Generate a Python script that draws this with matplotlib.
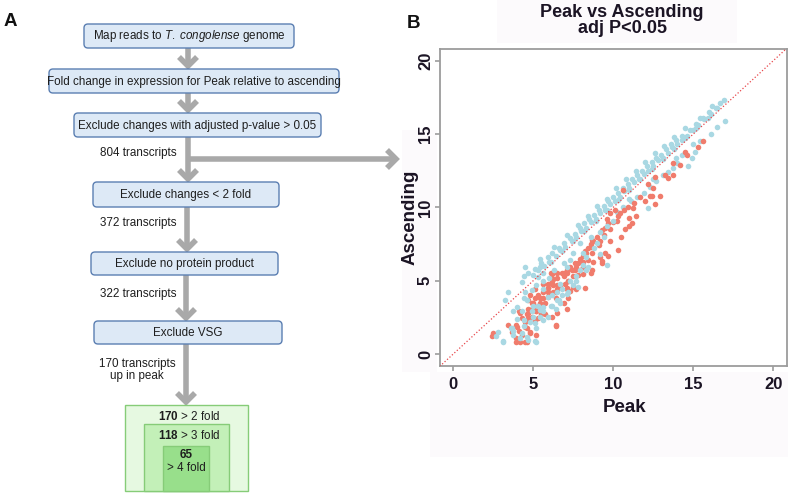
import matplotlib
matplotlib.use('Agg')
import matplotlib.pyplot as plt
from matplotlib.patches import FancyBboxPatch, Rectangle

plt.rcParams['font.family'] = 'Liberation Sans'
plt.rcParams['mathtext.fontset'] = 'custom'
plt.rcParams['mathtext.rm'] = 'Liberation Sans'
plt.rcParams['mathtext.it'] = 'Liberation Sans:italic'
plt.rcParams['mathtext.bf'] = 'Liberation Sans:bold'

# flowchart text
step_labels = [r'Map reads to $\mathit{T.\ congolense}$ genome',
               'Fold change in expression for Peak relative to ascending',
               'Exclude changes with adjusted p-value > 0.05',
               'Exclude changes < 2 fold',
               'Exclude no protein product',
               'Exclude VSG']
count_labels = ['804 transcripts', '372 transcripts', '322 transcripts',
                '170 transcripts\nup in peak']
fold_counts = [170, 118, 65]
fold_labels = ['> 2 fold', '> 3 fold', '> 4 fold']

# scatter: blue points (not up in peak)
band_lo_peak = [5.0, 5.3, 5.7, 6.0, 6.4, 6.7, 7.0, 7.4, 7.7, 8.0, 8.3, 8.6, 8.9, 9.2, 9.5, 9.8,
                10.1, 10.4, 10.7, 11.0, 11.3, 11.6, 11.9, 12.2, 12.5, 12.8, 13.1, 13.4, 13.7,
                14.0, 14.3, 14.6, 15.0, 15.3, 15.7, 16.1, 16.5]
band_lo_asc = [5.4, 5.7, 6.0, 6.3, 6.7, 7.1, 7.3, 7.7, 8.0, 8.4, 8.6, 9.0, 9.2, 9.6, 9.8, 10.2,
               10.4, 10.7, 11.1, 11.3, 11.7, 11.9, 12.3, 12.5, 12.8, 13.2, 13.4, 13.7, 14.1,
               14.3, 14.6, 14.9, 15.3, 15.6, 16.0, 16.4, 16.8]
band_mid_peak = [4.4, 4.7, 5.1, 5.5, 5.9, 6.2, 6.6, 6.9, 7.3, 7.6, 7.9, 8.2, 8.5, 8.8, 9.1,
                 9.4, 9.7, 10.0, 10.3, 10.6, 10.9, 11.2, 11.5, 11.8, 12.1, 12.4, 12.7, 13.0,
                 13.3, 13.6, 13.9, 14.3, 14.8, 15.2, 15.6, 16.0, 16.4, 16.9, 16.7]
band_mid_asc = [5.3, 5.5, 5.8, 6.2, 6.6, 6.9, 7.2, 7.6, 7.9, 8.2, 8.6, 8.9, 9.2, 9.5, 9.8,
                10.1, 10.4, 10.7, 11.0, 11.3, 11.6, 11.9, 12.2, 12.5, 12.8, 13.1, 13.4, 13.6,
                14.0, 14.3, 14.6, 14.9, 15.3, 15.7, 16.1, 16.5, 16.8, 17.3, 17.1]
band_hi_peak = [4.5, 5.4, 6.3, 7.1, 7.8, 8.4, 9.0, 9.6, 10.2, 10.8, 11.4, 12.0, 12.6, 13.2,
                13.8, 14.5, 15.4, 16.2]
band_hi_asc = [5.9, 6.5, 7.3, 8.1, 8.8, 9.4, 10.1, 10.6, 11.3, 11.9, 12.5, 13.1, 13.7, 14.2,
               14.8, 15.4, 16.1, 16.9]
band_edge_peak = [6.1, 6.8, 7.5, 8.2, 8.9, 9.6, 10.3, 11.0, 11.7, 12.4, 13.1, 13.8, 14.5,
                  15.2, 15.9]
band_edge_asc = [6.3, 7.0, 7.7, 8.4, 9.1, 9.8, 10.5, 11.2, 11.9, 12.6, 13.3, 14.0, 14.7,
                 15.4, 16.1]
blue_low_peak = [3.4, 3.25, 4.3, 2.8, 2.7, 3.1, 3.75, 3.75, 3.7, 4.0,
                 4.3, 4.0, 3.75, 4.6, 5.1, 5.2, 5.1, 4.4, 4.5, 5.3,
                 5.6, 6.2, 5.9, 6.2, 6.4, 5.6, 6.5, 5.2, 5.3, 5.6,
                 4.2, 3.6, 5.0, 5.4, 5.6, 4.9, 5.0, 5.9, 4.8, 4.4]
blue_low_asc = [4.2, 3.7, 4.9, 1.5, 1.2, 0.9, 1.3, 1.6, 1.8, 2.4,
                2.9, 3.2, 2.9, 1.15, 0.9, 1.8, 2.1, 3.8, 4.2, 3.3,
                2.9, 3.3, 2.5, 4.0, 3.1, 4.4, 4.2, 4.7, 5.25, 5.5,
                1.1, 1.77, 2.5, 3.0, 2.3, 2.9, 3.3, 3.9, 2.2, 1.9]
blue_mid_peak = [6.6, 6.8, 7.1, 6.7, 7.3, 7.7, 7.9, 7.1, 8.1, 8.3,
                 9.6, 9.2, 7.3, 7.9, 8.1, 9.0, 9.2, 9.6, 10.0, 8.6,
                 6.3, 5.6, 5.4, 6.7, 8.4, 9.4, 6.0, 7.5, 8.8, 6.9]
blue_mid_asc = [3.7, 4.4, 4.1, 3.5, 5.0, 5.3, 5.7, 5.9, 6.1, 6.6,
                6.1, 6.8, 6.4, 7.6, 6.9, 7.6, 8.3, 8.7, 9.1, 8.0,
                5.7, 5.0, 5.9, 4.8, 5.9, 8.0, 5.2, 6.9, 7.2, 6.2]
blue_extra_peak = [3.1, 4.3, 4.7, 5.2, 4.4, 5.4, 5.6, 6.1, 6.5, 6.8,
                   7.2, 7.5, 7.7, 8.3, 7.8, 4.9, 4.6]
blue_extra_asc = [0.8, 1.4, 0.95, 0.8, 2.3, 2.5, 3.2, 3.3, 3.7, 4.0,
                  4.2, 4.7, 5.0, 5.7, 4.6, 4.35, 3.7]
blue_below_peak = [10.25, 10.6, 11.1, 11.5, 11.9, 12.3, 12.7, 13.4, 13.75, 14.0,
                   14.3, 14.7, 12.2, 14.9, 15.1, 15.0, 15.4, 16.1, 16.5, 17.0,
                   12.5, 13.1, 11.0, 13.9]
blue_below_asc = [9.7, 10.0, 10.4, 10.7, 11.0, 11.4, 11.8, 12.4, 12.7, 13.0,
                  13.6, 12.8, 9.95, 13.4, 13.8, 14.3, 14.5, 15.0, 15.5, 15.9,
                  11.9, 12.2, 10.6, 13.4]

# scatter: red points (up in peak)
red_low_peak = [2.4, 2.5, 3.4, 3.9, 3.9, 4.2, 4.5, 4.6, 4.1, 4.3,
                4.6, 4.8, 5.2, 4.3, 4.6, 4.9, 4.7, 4.9, 5.1, 4.8,
                4.7, 5.4, 5.6, 5.5, 5.3, 5.2, 5.9, 5.9, 6.25, 5.9,
                6.2, 6.5, 5.75, 6.4, 6.4, 4.1, 4.7, 5.75, 3.9, 6.5,
                6.9, 6.6, 6.25, 5.6, 5.1, 6.2, 5.0, 5.3, 4.5, 6.0]
red_low_asc = [1.2, 1.4, 2.0, 2.0, 0.8, 0.8, 0.8, 0.8, 1.6, 1.3,
               1.8, 1.5, 1.3, 2.45, 2.7, 2.5, 3.1, 3.5, 3.8, 4.0,
               3.7, 3.5, 3.8, 2.7, 2.45, 2.9, 4.2, 4.5, 4.7, 4.8,
               5.0, 4.7, 3.5, 3.8, 1.9, 2.9, 2.8, 2.7, 1.1, 2.8,
               3.5, 4.6, 5.1, 4.8, 4.4, 2.5, 3.1, 4.0, 2.2, 4.0]
red_mid_peak = [7.1, 7.2, 7.3, 7.5, 7.1, 7.0, 6.5, 6.25, 6.1, 6.5,
                6.8, 7.1, 7.5, 7.7, 8.1, 8.1, 8.6, 8.75, 9.2, 9.3,
                9.7, 8.25, 7.7, 6.9, 7.1, 7.3, 7.6, 7.8, 8.1, 8.25,
                8.4, 8.6, 8.7, 8.75, 9.0, 9.1, 9.2, 9.3, 9.4, 9.5,
                9.7, 9.8, 10.0, 10.25, 9.5, 9.3, 8.7, 8.1, 7.2, 6.2,
                9.8, 10.1, 9.6, 10.3, 9.8, 10.5, 10.75, 11.2]
red_mid_asc = [3.1, 3.8, 4.3, 4.6, 4.5, 4.8, 4.4, 4.2, 5.5, 5.5,
               5.5, 5.5, 5.3, 5.9, 5.9, 6.3, 5.5, 6.3, 6.6, 6.2,
               6.7, 4.5, 4.4, 5.3, 5.7, 5.9, 5.7, 6.2, 6.7, 7.0,
               7.2, 7.5, 6.9, 7.7, 8.0, 7.4, 7.7, 8.45, 8.1, 8.6,
               8.9, 8.5, 9.0, 9.1, 6.9, 6.35, 5.7, 5.45, 5.0, 5.45,
               9.6, 9.8, 9.2, 7.1, 7.7, 8.0, 8.5, 8.9]
red_extra_peak = [3.7, 4.0, 4.2, 4.7, 4.5, 4.8, 5.1, 4.9, 5.0, 5.2,
                  5.3, 5.4, 5.6, 5.9, 5.9, 6.2, 6.4, 6.5, 6.7, 6.9,
                  7.1, 7.2, 7.4, 7.6, 7.8, 7.9, 8.1, 8.3, 8.4, 8.6,
                  8.7, 6.4]
red_extra_asc = [1.5, 1.85, 2.8, 2.45, 1.85, 1.4, 2.3, 3.1, 3.5, 2.9,
                 3.3, 3.8, 4.2, 4.5, 3.9, 4.8, 4.2, 5.2, 4.7, 5.5,
                 4.4, 5.0, 5.7, 6.2, 5.4, 6.5, 5.9, 6.9, 6.4, 7.3,
                 7.8, 2.0]
red_high_peak = [15.6, 15.3, 14.5, 14.6, 14.2, 13.75, 13.25, 13.75, 12.6, 12.2,
                 12.5, 12.9, 12.3, 11.7, 12.6, 10.6, 11.25, 10.4, 11.0, 10.9,
                 11.3, 10.7, 11.4, 10.3, 11.0, 12.0, 12.4, 13.4]
red_high_asc = [14.5, 14.1, 13.8, 13.6, 12.9, 13.0, 12.2, 12.2, 12.1, 11.6,
                11.3, 10.8, 10.8, 10.7, 10.2, 11.2, 9.95, 9.6, 9.3, 10.0,
                10.3, 9.8, 9.4, 9.4, 8.7, 10.4, 10.8, 12.0]

# blue band along the diagonal (drawn under the reds)
band_x = band_lo_peak + band_mid_peak + band_hi_peak + band_edge_peak + blue_below_peak
band_y = band_lo_asc + band_mid_asc + band_hi_asc + band_edge_asc + blue_below_asc
# blue points inside the red cluster (drawn over the reds)
mixed_x = blue_low_peak + blue_mid_peak + blue_extra_peak
mixed_y = blue_low_asc + blue_mid_asc + blue_extra_asc
red_x = red_low_peak + red_mid_peak + red_extra_peak + red_high_peak
red_y = red_low_asc + red_mid_asc + red_extra_asc + red_high_asc

fig = plt.figure(figsize=(8, 4.94), dpi=100)

# ---- panel A: flowchart drawn in pixel coordinates ----
ax0 = fig.add_axes([0, 0, 1, 1])
ax0.set_xlim(0, 800)
ax0.set_ylim(494, 0)
ax0.axis('off')

txt_col = '#1e1e1e'
arrow_col = '#a9a9a9'

# faint backing of panel B pieces
for (x0, y0, x1, y1) in [(497, 0, 737, 43), (430, 372, 788, 457), (402, 130, 437, 372)]:
    ax0.add_patch(Rectangle((x0, y0), x1 - x0, y1 - y0, fc='#fcfafc', ec='none', zorder=0))

box_geom = [(84, 24, 294, 48), (49, 69, 339, 93), (74, 113, 321, 137),
            (93, 182, 279, 207), (91, 252, 278, 275), (94, 321, 282, 344)]
for lab, (x0, y0, x1, y1) in zip(step_labels, box_geom):
    ax0.add_patch(FancyBboxPatch((x0, y0), x1 - x0, y1 - y0,
                                 boxstyle='round,pad=0,rounding_size=4',
                                 fc='#dde9f6', ec='#5b7fb2', lw=1.0, zorder=3))
    ax0.text((x0 + x1) / 2, (y0 + y1) / 2 + 0.5, lab, ha='center', va='center',
             fontsize=8.4, color=txt_col, zorder=4)


def down_arrow(x, y0, y1):
    ax0.plot([x, x], [y0, y1 - 4], color=arrow_col, lw=4.0, solid_capstyle='butt', zorder=2)
    ax0.plot([x - 9, x, x + 9], [y1 - 12, y1 - 3, y1 - 12], color=arrow_col, lw=4.0,
             solid_joinstyle='miter', solid_capstyle='butt', zorder=2)


for x, y0, y1 in [(188, 48, 69), (188, 93, 113), (188, 137, 182),
                  (187, 207, 252), (186, 275, 321), (186, 344, 405)]:
    down_arrow(x, y0, y1)

# branch to panel B
ax0.plot([188, 394], [159, 159], color=arrow_col, lw=4.0, solid_capstyle='butt', zorder=2)
ax0.plot([387, 396, 387], [150, 159, 168], color=arrow_col, lw=4.0,
         solid_joinstyle='miter', solid_capstyle='butt', zorder=2)

ax0.text(100, 153, count_labels[0], ha='left', va='center', fontsize=8.4, color=txt_col)
ax0.text(100, 223, count_labels[1], ha='left', va='center', fontsize=8.4, color=txt_col)
ax0.text(100, 294, count_labels[2], ha='left', va='center', fontsize=8.4, color=txt_col)
ax0.text(137, 370, count_labels[3], ha='center', va='center', fontsize=8.4, color=txt_col,
         linespacing=1.1)

# nested fold-change boxes
green_geom = [(125, 405, 248, 491), (144, 424, 229, 491), (163, 446, 209, 491)]
green_fill = ['#e6f9e1', '#c3f0b8', '#98df8b']
for (x0, y0, x1, y1), fc in zip(green_geom, green_fill):
    ax0.add_patch(Rectangle((x0, y0), x1 - x0, y1 - y0, fc=fc, ec='#86cc78', lw=1.0, zorder=3))
ax0.text(189, 416, r'$\mathbf{%d}$ %s' % (fold_counts[0], fold_labels[0]), ha='center',
         va='center', fontsize=8.4, color=txt_col, zorder=4)
ax0.text(189, 435, r'$\mathbf{%d}$ %s' % (fold_counts[1], fold_labels[1]), ha='center',
         va='center', fontsize=8.4, color=txt_col, zorder=4)
ax0.text(186, 455, str(fold_counts[2]), ha='center', va='center', fontsize=8.4,
         fontweight='bold', color=txt_col, zorder=4)
ax0.text(186, 468, fold_labels[2], ha='center', va='center', fontsize=8.4, color=txt_col, zorder=4)

ax0.text(10, 22, 'A', ha='center', va='center', fontsize=13.5, fontweight='bold', color='#111111')
ax0.text(414, 23, 'B', ha='center', va='center', fontsize=13.5, fontweight='bold', color='#111111')

# ---- panel B: scatter ----
dark = '#1b1424'
ax0.text(622, 17, 'Peak vs Ascending', ha='center', va='baseline', fontsize=13,
         fontweight='bold', color=dark)
ax0.text(622, 33, 'adj P<0.05', ha='center', va='baseline', fontsize=13,
         fontweight='bold', color=dark)
ax0.text(625, 412, 'Peak', ha='center', va='baseline', fontsize=13.5,
         fontweight='bold', color=dark)
ax0.text(415, 217, 'Ascending', ha='center', va='baseline', rotation=90,
         rotation_mode='anchor', fontsize=13.5, fontweight='bold', color=dark)

ax = fig.add_axes([440 / 800, 1 - 366 / 494, 347 / 800, 317 / 494])
ax.scatter(band_x, band_y, s=16, c='#a9d8e3', linewidths=0, zorder=2)
ax.scatter(red_x, red_y, s=16, c='#f07c6c', linewidths=0, zorder=3)
ax.scatter(mixed_x, mixed_y, s=16, c='#a9d8e3', linewidths=0, zorder=4)
ax.plot([-1, 21], [-1, 21], color='#e8464a', ls=':', lw=0.9, zorder=5)
ax.set_xlim(-0.83, 20.86)
ax.set_ylim(-0.82, 20.8)
ax.set_xticks([0, 5, 10, 15, 20])
ax.set_yticks([0, 5, 10, 15, 20])
for sp in ax.spines.values():
    sp.set_color('#9c9c9c')
    sp.set_linewidth(1.3)
ax.tick_params(direction='out', length=3.6, width=1.2, color='#9c9c9c',
               labelsize=12, labelcolor=dark)
ax.tick_params(axis='x', pad=4.3)
ax.tick_params(axis='y', labelrotation=90, pad=1.5)
for lab in ax.get_xticklabels() + ax.get_yticklabels():
    lab.set_fontweight('bold')
for lab in ax.get_yticklabels():
    lab.set_va('center')

fig.savefig('out.png', dpi=100)
